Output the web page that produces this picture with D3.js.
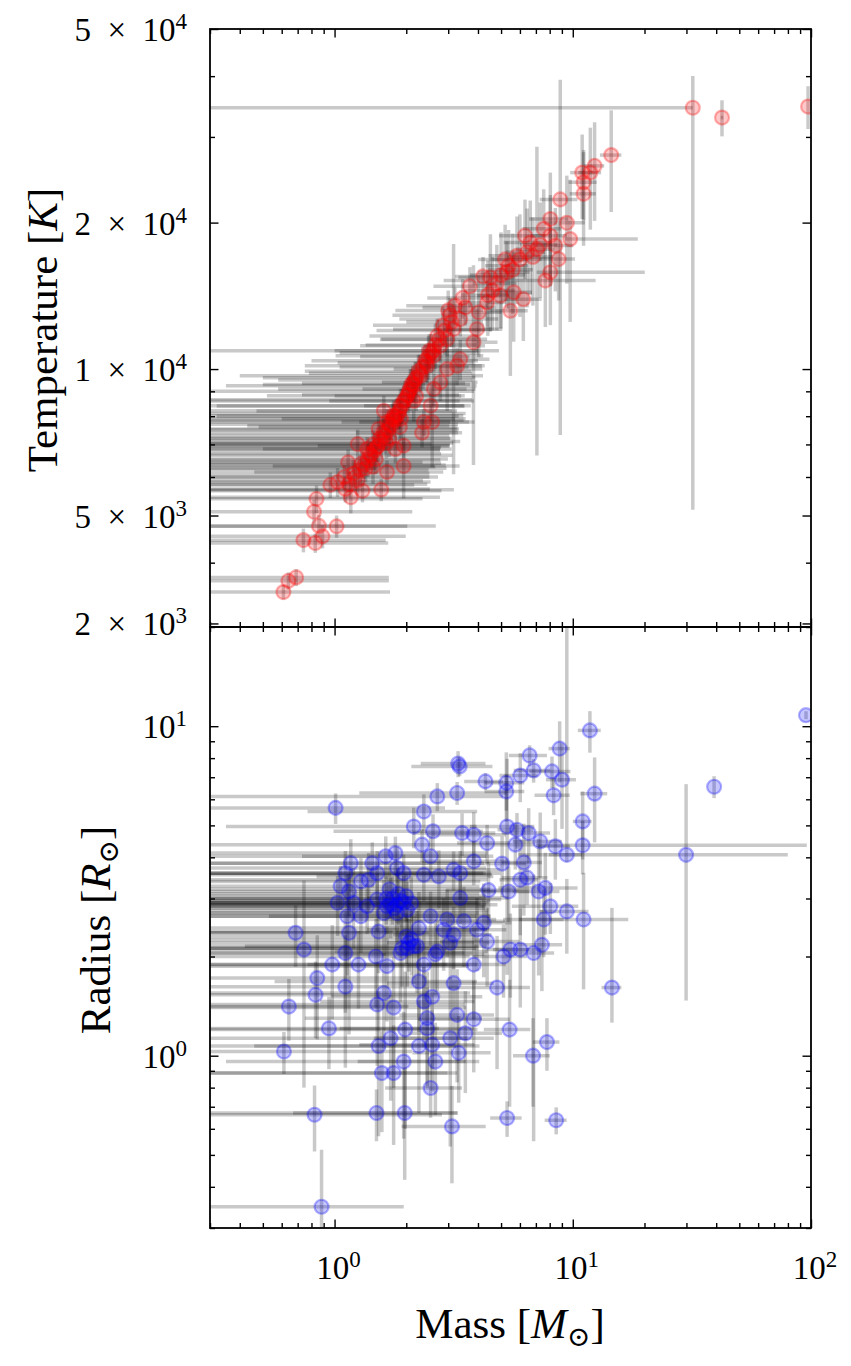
<!DOCTYPE html>
<html>
<head>
<meta charset="utf-8">
<title>Mass - temperature - radius</title>
<script src="https://d3js.org/d3.v7.min.js"></script>
<style>
	body {
		margin: 0;
		background-color: white;
	}
	svg {
		display: block;
	}
</style>
</head>
<body>
<script>
	// ---- data: upper panel (mass vs temperature) ----
	var tempMass = [0.61, 0.64, 0.69, 0.74, 0.83, 0.89, 0.86, 1.02, 0.82, 0.84,
		0.96, 1.03, 1.11, 1.17, 1.31, 1.57, 1.14, 1.25, 1.37, 1.49,
		1.66, 1.95, 1.80, 1.61, 1.53, 1.66, 1.77, 1.89, 2.02, 2.15,
		2.30, 2.45, 2.61, 2.78, 2.97, 3.16, 3.37, 3.54, 2.37, 2.53,
		2.33, 2.57, 1.95, 2.61, 2.78, 2.97, 3.27, 3.37, 3.83, 3.96,
		4.03, 4.37, 4.51, 4.97, 5.47, 5.65, 6.2, 5.29, 5.38, 5.83,
		6.43, 6.63, 7.07, 7.55, 8.05, 8.86, 9.44, 9.75, 8.72, 8.05,
		7.67, 8.05, 8.45, 11.1, 11.1, 10.95, 11.85, 12.35, 14.5, 31.9,
		42.3, 97.2, 1.20, 1.30, 1.40, 1.45, 1.55, 1.60, 1.70, 1.75,
		1.85, 1.95, 2.05, 2.10, 2.20, 2.25, 2.40, 2.50, 2.70, 2.85,
		3.05, 3.20, 1.35, 1.50, 1.65, 1.88, 2.20, 3.45, 3.70, 3.00,
		4.20, 1.25, 1.10, 2.6,
		1.15, 1.22, 1.28, 1.33, 1.38, 1.42, 1.47, 1.52, 1.57, 1.63,
		1.68, 1.73, 1.78, 1.82, 1.87, 1.92, 1.98, 2.03, 2.08, 2.13,
		2.18, 2.28, 2.35, 2.43, 2.48, 2.55, 2.65, 2.75, 2.90, 3.10,
		1.45, 1.70, 1.90, 2.15, 4.6, 4.8, 5.0, 5.6, 6.0, 6.8,
		7.3, 4.4, 5.2, 6.3];
	var tempMassErr = [1.1, 1.05, 1.0, 0.9, 0.85, 1.1, 1.8, 1.0, 1.3, 1.5,
		1.2, 1.5, 1.4, 1.6, 1.5, 1.6, 1.2, 1.3, 1.4, 1.5,
		1.2, 1.4, 1.3, 1.5, 1.8, 1.4, 1.7, 1.6, 1.5, 1.8,
		1.9, 1.7, 1.6, 1.5, 1.4, 1.4, 1.5, 1.2, 1.3, 1.2,
		1.1, 1.3, 1.1, 1.3, 1.2, 1.2, 1.0, 1.1, 1.0, 1.1,
		1.0, 0.9, 1.2, 1.0, 1.0, 1.1, 1.2, 1.3, 1.1, 1.4,
		1.2, 1.5, 1.3, 1.4, 1.5, 1.6, 1.8, [0.5, 9], 1.5, [1.0, 12],
		4.8, 1.4, 1.6, 1.5, 1.4, 1.2, 1.3, 1.2, 1.5, [31.7, 0],
		0.5, 0, 1.3, 1.5, 1.4, 1.6, 1.5, 1.7, 1.6, 1.8,
		1.7, 1.9, 1.8, 1.6, 1.7, 1.5, 1.6, 1.5, 1.3, 1.4,
		1.3, 1.2, 1.6, 1.3, 1.5, 1.4, 1.2, 1.0, 1.1, 1.2,
		1.0, 1.1, 1.4, 2.3,
		1.3, 1.5, 1.2, 1.6, 1.4, 1.7, 1.3, 1.5, 1.8, 1.4,
		1.6, 1.3, 1.7, 1.5, 1.4, 1.6, 1.8, 1.3, 1.5, 1.4,
		1.6, 1.5, 1.3, 1.4, 1.2, 1.5, 1.3, 1.2, 1.4, 1.1,
		1.2, 1.4, 1.3, 1.2, 1.1, 1.0, 1.3, 1.2, 1.4, 1.5,
		1.3, 1.0, 1.2, 1.4];
	var temperature = [3480, 3670, 3730, 4450, 4390, 4530, 4760, 4750, 5090, 5410,
		5780, 5860, 5670, 5450, 5620, 5650, 6430, 7010, 6850, 6530,
		6140, 6320, 6850, 8210, 7530, 7780, 8020, 8410, 8810, 9240,
		9690, 10160, 10650, 11160, 11520, 12080, 12670, 13390, 7780, 8410,
		7400, 7780, 6960, 9100, 9390, 10000, 10160, 10480, 11350, 12080,
		13080, 13710, 15430, 14150, 13180, 14380, 13920, 15810, 16310, 17090,
		17380, 18200, 17640, 19420, 20340, 22320, 19980, 18500, 16830, 15810,
		15200, 18790, 17940, 24210, 22920, 25340, 25340, 26160, 27530, 34440,
		32880, 34640, 6100, 6400, 6700, 7000, 7200, 7400, 7700, 7900,
		8100, 8600, 9000, 9300, 9600, 9900, 10400, 10900, 11700, 12300,
		12900, 13500, 6250, 6900, 7050, 7600, 8800, 14000, 14800, 13200,
		15500, 5900, 6000, 10900,
		5800, 6000, 6200, 6350, 6500, 6650, 6800, 6950, 7100, 7300,
		7500, 7650, 7850, 8000, 8200, 8400, 8650, 8850, 9100, 9350,
		9500, 9800, 10100, 10300, 10600, 10800, 11200, 11500, 12000, 12500,
		6300, 7200, 7900, 8600, 14500, 15000, 15600, 16000, 16800, 17000,
		18000, 14200, 16800, 18800];
	var temperatureErr = [120, 150, 150, 250, 200, 250, 250, 250, 300, 350,
		350, 400, 350, 400, 300, 300, 400, 500, 400, 450,
		350, 900, 450, 600, 500, 500, 600, 700, 600, 700,
		700, 800, 800, 900, 900, 6000, 1000, 1100, 500, 600,
		500, 1500, 400, 700, 800, 1800, 900, 1000, 5000, 1200,
		2500, 1500, 3500, 2000, 3500, 3000, 2500, 2500, 3000, 3500,
		4000, 4000, 11000, 4000, 5000, [15000, 17000], 5000, 6000, 3000, 3500,
		3000, 4000, 3500, 4000, 5000, 5000, 6000, 6000, 6500, [29300, 5600],
		2800, 3500, 400, 400, 450, 500, 500, 500, 550, 600,
		600, 650, 700, 700, 750, 800, 800, 900, 1000, 1100,
		1100, 1200, 400, 450, 500, 500, 600, 1300, 1400, 1300,
		1500, 400, 350, 500,
		350, 400, 450, 400, 500, 450, 600, 500, 550, 600,
		500, 650, 600, 700, 650, 700, 800, 750, 900, 800,
		850, 900, 1000, 900, 1100, 1000, 1200, 1100, 1300, 1400,
		500, 600, 700, 800, 2500, 3000, 3500, 3000, 4000, 3500,
		4000, 2500, 3000, 3500];

	// ---- data: lower panel (mass vs radius) ----
	var radMass = [11.8, 8.81, 6.59, 3.35, 3.30, 4.30, 5.26, 6.02, 6.85, 8.18,
		9.01, 3.27, 2.70, 5.26, 8.31, 12.35, 1.01, 2.37, 11.0, 2.15,
		2.59, 3.43, 3.84, 5.30, 5.83, 6.53, 7.30, 4.37, 2.33, 5.74,
		8.45, 11.0, 9.44, 2.53, 1.80, 1.17, 1.44, 1.64, 3.84, 5.05,
		6.23, 1.11, 1.95, 2.37, 2.74, 3.16, 3.37, 1.39, 6.02, 6.43,
		4.43, 5.38, 7.19, 7.67, 1.03, 1.15, 1.20, 1.51, 1.66, 1.83,
		2.02, 3.37, 8.05, 9.44, 11.1, 7.55, 1.13, 1.29, 2.53, 2.97,
		3.49, 4.23, 0.686, 1.15, 1.53, 2.26, 4.37, 0.744, 1.92, 2.22,
		2.65, 1.11, 1.49, 5.12, 5.47, 6.02, 6.85, 7.42, 0.978, 1.26,
		1.66, 2.37, 3.84, 0.846, 1.11, 2.26, 3.16, 4.81, 14.6, 0.832,
		1.61, 2.57, 0.643, 1.51, 1.77, 2.37, 3.27, 3.84, 2.45, 0.947,
		1.98, 2.45, 3.54, 5.43, 1.72, 3.06, 7.79, 0.613, 1.53, 2.26,
		2.57, 3.32, 6.81, 1.95, 2.65, 1.58, 1.77, 2.53, 0.824, 1.50,
		1.97, 3.11, 5.30, 8.52, 1.72, 1.83, 1.61, 1.95, 1.37, 1.89,
		2.02, 2.87, 3.16, 1.29, 1.83, 1.06, 1.51, 3.06, 3.96, 2.70,
		95.3, 39.2, 29.9, 0.882,
		1.75, 1.85, 1.90, 1.70, 2.00, 1.78, 2.10, 1.65, 2.05, 2.10,
		2.00, 2.15];
	var radMassErr = [1.3, 0.9, 1.2, 1.25, 1.0, 0.8, 1.0, 1.1, 1.2, 1.6,
		1.3, 2.0, 2.4, 1.0, 1.4, 1.6, 1.9, 1.6, 1.0, 1.8,
		1.6, 1.3, 1.4, 1.6, 1.0, 1.5, 1.7, 1.1, 2.2, 1.2,
		1.3, [4, 85], 1.5, 1.8, 2.6, 2.4, 2.8, 3.0, 1.5, 1.3,
		1.2, 3.2, 2.6, 2.2, 1.9, 1.8, 1.6, 3.0, 1.1, 1.4,
		1.5, 1.2, 1.6, 2.8, 3.4, 3.6, 2.8, 3.5, 2.6, 3.0,
		2.4, 2.0, 2.5, 2.2, 6.0, 1.6, 2.8, 3.2, 2.0, 1.8,
		1.7, 1.3, 1.8, 2.6, 2.4, 2.2, 1.6, 2.2, 2.0, 1.8,
		1.6, 2.4, 2.2, 1.3, 1.1, 1.4, 1.5, 1.6, 2.0, 2.4,
		2.0, 1.6, 1.4, 1.6, 2.2, 1.7, 1.5, 1.8, 1.4, 1.9,
		2.1, 1.6, 1.4, 2.0, 1.8, 1.5, 1.4, 1.6, 1.7, 1.8,
		2.0, 1.4, 1.5, 1.2, 1.9, 1.6, 1.0, 1.5, 1.7, 1.8,
		1.3, 1.2, 1.2, 1.6, 1.4, 1.4, 1.5, 0.9, 2.0, 1.8,
		1.3, 1.2, 0.8, 0.9, 2.6, 2.2, 2.8, 2.4, 3.0, 1.9,
		2.0, 1.5, 1.4, 2.8, 2.5, 3.0, 2.7, 1.4, 1.3, 1.7,
		0, 0, [24, 50], 1.07,
		2.4, 2.2, 2.6, 2.8, 2.3, 2.5, 2.0, 2.7, 1.8, 2.1,
		1.9, 2.2];
	var radius = [9.71, 8.55, 8.15, 7.55, 7.70, 6.80, 6.73, 7.08, 7.34, 7.29,
		6.88, 6.27, 6.12, 6.34, 6.17, 6.24, 5.65, 5.51, 5.14, 4.96,
		4.80, 4.74, 4.68, 4.96, 4.85, 4.74, 4.47, 4.42, 4.37, 4.37,
		4.32, 4.35, 4.07, 4.03, 4.12, 3.84, 3.84, 4.03, 3.89, 3.83,
		3.86, 3.58, 3.58, 3.54, 3.50, 3.67, 3.58, 3.42, 3.42, 3.47,
		3.18, 3.15, 3.15, 3.23, 2.91, 3.15, 2.91, 2.98, 2.84, 2.87,
		2.77, 3.01, 2.84, 2.74, 2.59, 2.59, 2.65, 2.65, 2.65, 2.59,
		2.56, 2.53, 2.36, 2.36, 2.38, 2.44, 2.22, 2.10, 2.12, 2.15,
		2.03, 2.05, 2.00, 2.00, 2.10, 2.10, 2.05, 2.17, 1.89, 1.89,
		1.87, 1.89, 1.89, 1.72, 1.62, 1.68, 1.66, 1.61, 1.61, 1.53,
		1.55, 1.51, 1.41, 1.43, 1.40, 1.46, 1.33, 1.29, 1.30, 1.21,
		1.20, 1.21, 1.17, 1.20, 1.13, 1.13, 1.10, 1.03, 1.07, 1.07,
		1.08, 1.02, 1.00, 0.96, 0.96, 0.886, 0.886, 0.798, 0.662, 0.67,
		0.67, 0.61, 0.647, 0.637, 2.87, 2.71, 2.71, 2.91, 2.84, 2.05,
		2.12, 2.41, 2.33, 3.38, 3.71, 3.27, 3.58, 2.20, 2.41, 2.07,
		10.8, 6.55, 4.07, 0.348,
		3.00, 3.10, 2.95, 3.20, 3.05, 2.80, 2.90, 3.00, 2.20, 2.25,
		2.30, 2.15];
	var radiusErr = [1.4, 1.8, 0.6, 0.5, 0.7, 0.4, 1.6, 1.2, 0.6, 0.8,
		2.0, 0.5, 0.6, 0.8, 0.8, 1.8, 0.6, 0.7, 1.2, 0.7,
		0.6, 0.7, 0.8, [3.2, 3.0], 0.6, 0.9, 1.0, 0.6, 0.5, 0.7,
		0.9, 0.8, [0.2, 16], 0.6, 0.5, 0.7, 0.6, 0.6, 0.6, 0.8,
		1.2, 0.6, 0.5, 0.6, 0.7, 0.5, 0.6, 0.7, 1.1, 0.6,
		0.7, 0.6, 1.4, 0.9, 0.6, 0.5, 0.8, 0.6, 0.5, 0.7,
		0.6, 0.5, 0.5, 0.7, 1.0, 0.6, 0.9, 0.6, 0.5, 0.6,
		0.7, 0.8, 0.5, 1.2, 0.6, 0.7, 0.6, 1.3, 0.5, 0.6,
		0.5, 0.7, 0.6, 0.5, 0.6, 0.7, 1.5, 0.6, 0.6, 0.5,
		0.6, 0.5, 0.6, 0.6, 0.7, 0.5, 0.6, 0.7, [0.35, 1.2], 0.4,
		0.5, 0.6, 0.3, 0.5, 0.6, 0.4, 0.5, 0.4, 0.5, 0.3,
		0.6, 0.4, 0.4, 0.5, 0.4, 0.6, 0.2, 0.15, 0.5, 0.4,
		0.3, 0.3, 0.3, 0.4, 0.3, 0.3, 0.35, 0.15, 0.15, 0.12,
		0.25, 0.2, 0.08, 0.06, 0.6, 0.5, 0.7, 0.6, 0.5, 0.6,
		0.5, 0.6, 0.5, 0.6, 0.6, 0.5, 0.6, 0.5, 0.6, 0.5,
		0.3, 0.5, 2.6, 0.17,
		0.5, 0.6, 0.5, 0.6, 0.5, 0.4, 0.6, 0.5, 0.4, 0.5,
		0.4, 0.5];

	// ---- ticks ----
	var massMajor = [1, 10, 100];
	var massMajorExp = ["0", "1", "2"];
	var massMinor = [0.3, 0.4, 0.5, 0.6, 0.7, 0.8, 0.9, 2, 3, 4, 5, 6, 7, 8, 9,
		20, 30, 40, 50, 60, 70, 80, 90];
	var tempMajor = [3000, 5000, 10000, 20000, 50000];
	var tempMajorMant = ["2", "5", "1", "2", "5"];
	var tempMajorExp = ["3", "3", "4", "4", "4"];
	var tempMinor = [4000, 6000, 7000, 8000, 9000, 30000, 40000];
	var radMajor = [1, 10];
	var radMajorExp = ["0", "1"];
	var radMinor = [0.3, 0.4, 0.5, 0.6, 0.7, 0.8, 0.9, 2, 3, 4, 5, 6, 7, 8, 9, 20];

	var serif = "'Liberation Serif', 'DejaVu Serif', serif";
	var left = 210, right = 811;
	var topT = 29, midY = 627, bottomR = 1228;

	var x = d3.scaleLog().domain([0.3, 100]).range([left, right]);
	var yT = d3.scaleLog().domain([2950, 50000]).range([midY, topT]);
	var yR = d3.scaleLog().domain([0.3, 20]).range([bottomR, midY]);

	var svg = d3.select("body").append("svg")
		.attr("width", 851).attr("height", 1366);

	function lowErr(e) { return Array.isArray(e) ? e[0] : e; }
	function highErr(e) { return Array.isArray(e) ? e[1] : e; }
	function safe(v) { return v > 0 ? v : 1e-3; }

	function drawPanel(id, y, mass, massErr, vals, valErr, color, y0, y1) {
		svg.append("clipPath").attr("id", id).append("rect")
			.attr("x", left).attr("y", y0)
			.attr("width", right - left).attr("height", y1 - y0);
		var pts = mass.map(function(m, i) {
			return {m: m, me: massErr[i], v: vals[i], ve: valErr[i]};
		});
		var g = svg.append("g").attr("clip-path", "url(#" + id + ")");
		// horizontal error bars
		g.selectAll("line.xerr")
			.data(pts.filter(function(d) { return lowErr(d.me) + highErr(d.me) > 0; }))
			.enter().append("line")
			.attr("class", "xerr")
			.attr("x1", function(d) { return x(safe(d.m - lowErr(d.me))); })
			.attr("x2", function(d) { return x(d.m + highErr(d.me)); })
			.attr("y1", function(d) { return y(d.v); })
			.attr("y2", function(d) { return y(d.v); });
		// vertical error bars
		g.selectAll("line.yerr")
			.data(pts.filter(function(d) { return lowErr(d.ve) + highErr(d.ve) > 0; }))
			.enter().append("line")
			.attr("class", "yerr")
			.attr("x1", function(d) { return x(d.m); })
			.attr("x2", function(d) { return x(d.m); })
			.attr("y1", function(d) { return y(safe(d.v - lowErr(d.ve))); })
			.attr("y2", function(d) { return y(d.v + highErr(d.ve)); });
		g.selectAll("line")
			.attr("stroke", "#000")
			.attr("stroke-opacity", 0.21)
			.attr("stroke-width", 3.5);
		// markers
		g.selectAll("circle").data(pts).enter().append("circle")
			.attr("cx", function(d) { return x(d.m); })
			.attr("cy", function(d) { return y(d.v); })
			.attr("r", 7)
			.attr("fill", color).attr("fill-opacity", 0.22)
			.attr("stroke", color).attr("stroke-opacity", 0.3)
			.attr("stroke-width", 2.2);
	}

	drawPanel("clipT", yT, tempMass, tempMassErr, temperature, temperatureErr, "#ff0000", topT, midY);
	drawPanel("clipR", yR, radMass, radMassErr, radius, radiusErr, "#0000ff", midY, bottomR);

	// inward ticks on all four sides
	function ticks(axisFn, scale, vals, size, transform) {
		svg.append("g").attr("transform", transform)
			.call(axisFn(scale).tickValues(vals).tickSize(-size).tickFormat(""))
			.call(function(g) { g.select(".domain").remove(); })
			.selectAll("line").attr("stroke", "#000").attr("stroke-width", 1.4);
	}
	[[tempMajor, 8.5], [tempMinor, 5]].forEach(function(t) {
		ticks(d3.axisLeft, yT, t[0], t[1], "translate(" + left + ",0)");
		ticks(d3.axisRight, yT, t[0], t[1], "translate(" + right + ",0)");
	});
	[[radMajor, 8.5], [radMinor, 5]].forEach(function(t) {
		ticks(d3.axisLeft, yR, t[0], t[1], "translate(" + left + ",0)");
		ticks(d3.axisRight, yR, t[0], t[1], "translate(" + right + ",0)");
	});
	[[massMajor, 8.5], [massMinor, 5]].forEach(function(t) {
		ticks(d3.axisTop, x, t[0], t[1], "translate(0," + topT + ")");
		ticks(d3.axisBottom, x, t[0], t[1], "translate(0," + midY + ")");
		ticks(d3.axisTop, x, t[0], t[1], "translate(0," + midY + ")");
		ticks(d3.axisBottom, x, t[0], t[1], "translate(0," + bottomR + ")");
	});

	// frames
	[[topT, midY], [midY, bottomR]].forEach(function(p) {
		svg.append("rect")
			.attr("x", left).attr("y", p[0])
			.attr("width", right - left).attr("height", p[1] - p[0])
			.attr("fill", "none").attr("stroke", "#000").attr("stroke-width", 1.8);
	});

	// tick labels
	function sciLabel(xPos, yPos, anchor, mant, exp) {
		var t = svg.append("text")
			.attr("x", xPos).attr("y", yPos)
			.attr("text-anchor", anchor)
			.attr("font-family", serif).attr("font-size", 33)
			.attr("fill", "#000");
		t.append("tspan").text(mant ? mant + "\u2002\u00d7\u200210" : "10");
		t.append("tspan").attr("dy", -12).attr("font-size", 23).text(exp);
	}
	tempMajor.forEach(function(v, i) {
		sciLabel(187, yT(v) + 12, "end", tempMajorMant[i], tempMajorExp[i]);
	});
	radMajor.forEach(function(v, i) {
		sciLabel(187, yR(v) + 12, "end", null, radMajorExp[i]);
	});
	massMajor.forEach(function(v, i) {
		sciLabel(x(v) + 4, 1279, "middle", null, massMajorExp[i]);
	});

	// axis labels
	var tl = svg.append("text")
		.attr("transform", "translate(57,330) rotate(-90)")
		.attr("text-anchor", "middle")
		.attr("font-family", serif).attr("font-size", 43);
	tl.append("tspan").text("Temperature [");
	tl.append("tspan").attr("font-style", "italic").text("K");
	tl.append("tspan").text("]");

	var rl = svg.append("text")
		.attr("transform", "translate(110,930) rotate(-90)")
		.attr("text-anchor", "middle")
		.attr("font-family", serif).attr("font-size", 43);
	rl.append("tspan").text("Radius [");
	rl.append("tspan").attr("font-style", "italic").text("R");
	rl.append("tspan").attr("dy", 8).attr("font-size", 28).text("\u2299");
	rl.append("tspan").attr("dy", -8).text("]");

	var ml = svg.append("text")
		.attr("x", 510).attr("y", 1338)
		.attr("text-anchor", "middle")
		.attr("font-family", serif).attr("font-size", 43);
	ml.append("tspan").text("Mass [");
	ml.append("tspan").attr("font-style", "italic").text("M");
	ml.append("tspan").attr("dy", 8).attr("font-size", 28).text("\u2299");
	ml.append("tspan").attr("dy", -8).text("]");
</script>
</body>
</html>
